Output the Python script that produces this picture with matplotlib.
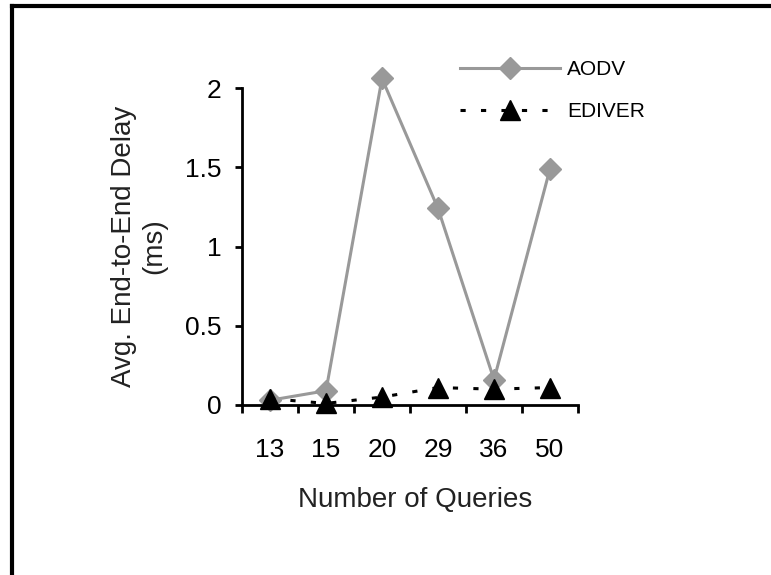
import matplotlib.pyplot as plt
from matplotlib.lines import Line2D

# Dados
queries = ['13', '15', '20', '29', '36', '50']
aodv = [0.03, 0.09, 2.06, 1.24, 0.16, 1.49]
ediver = [0.04, 0.01, 0.05, 0.11, 0.10, 0.11]

plt.rcParams['font.family'] = ['Liberation Sans', 'DejaVu Sans']

fig = plt.figure(figsize=(7.71, 5.75), dpi=100)
ax = fig.add_axes([242/771, 1 - 405/575, (578 - 242)/771, (405 - 88)/575])

x = range(len(queries))
ax.plot(x, aodv, color='#999999', lw=2.2, marker='D', ms=11,
        label='AODV', clip_on=False, zorder=3)
ax.plot(x, ediver, color='black', lw=2.2, ls=(0, (1.7, 5)), marker='^', ms=14,
        label='EDIVER', clip_on=False, zorder=4)

ax.set_xlim(-0.5, 5.5)
ax.set_ylim(0, 2)
ax.set_yticks([0, 0.5, 1, 1.5, 2])
ax.set_yticklabels(['0', '0.5', '1', '1.5', '2'])
# marcas entre categorias, rótulos no centro
ax.set_xticks([i - 0.5 for i in range(len(queries) + 1)])
ax.set_xticklabels([])
ax.set_xticks(list(x), minor=True)
ax.set_xticklabels(queries, minor=True)
ax.tick_params(axis='x', which='minor', length=0, pad=24, labelsize=19)
ax.tick_params(axis='x', which='major', length=6, width=2, direction='out')
ax.tick_params(axis='y', length=5, width=2, direction='out', labelsize=19, pad=10)

for side in ['top', 'right']:
    ax.spines[side].set_visible(False)
for side in ['left', 'bottom']:
    ax.spines[side].set_linewidth(2)

ax.set_ylabel('Avg. End-to-End Delay\n(ms)', fontsize=20, color='#222222')
ax.yaxis.set_label_coords(-0.223, 0.5)
ax.set_xlabel('Number of Queries', fontsize=20, color='#222222')
ax.xaxis.set_label_coords(0.515, -0.258)

ax.legend(loc='upper left', bbox_to_anchor=(0.649, 1.087), frameon=False,
          fontsize=15, handlelength=4.8, handletextpad=0.35, labelspacing=1.1,
          borderaxespad=0, borderpad=0)

# moldura parcial da figura (topo e esquerda)
fig.add_artist(Line2D([12/771, 12/771], [0, 1 - 6/575], color='black', lw=3))
fig.add_artist(Line2D([12/771, 1], [1 - 6/575, 1 - 6/575], color='black', lw=3))

plt.savefig('out.png', dpi=100)
